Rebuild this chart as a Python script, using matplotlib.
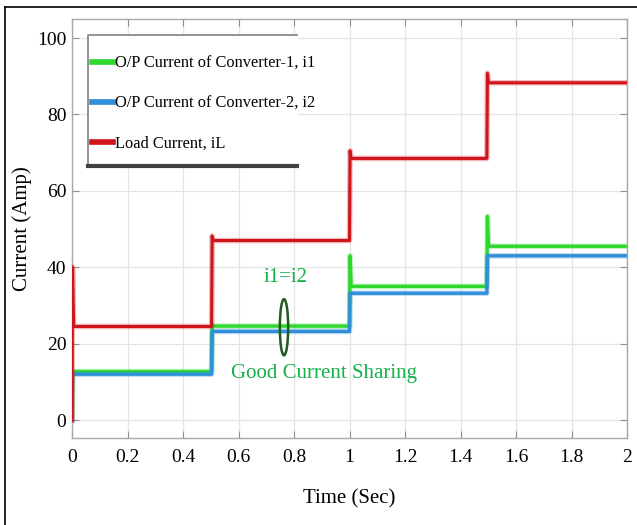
import matplotlib
matplotlib.use("Agg")
import matplotlib.pyplot as plt
import matplotlib.patheffects as pe
from matplotlib.patches import Ellipse
from matplotlib.lines import Line2D

# Load-step instants (s) and steady levels / transient peaks (A)
step_times = [0.0, 0.503, 1.0, 1.495, 2.0]
iL_levels = [24.5, 47.0, 68.5, 88.3]
iL_peaks = [40.0, 48.2, 70.5, 90.8]
i1_levels = [12.7, 24.6, 35.0, 45.5]
i1_peaks = [12.7, 25.0, 43.0, 53.3]
i2_levels = [12.0, 23.2, 33.2, 43.0]
i2_peaks = [12.0, 23.2, 33.2, 43.0]

x_ticks = [0, 0.2, 0.4, 0.6, 0.8, 1.0, 1.2, 1.4, 1.6, 1.8, 2.0]
x_tick_labels = ["0", "0.2", "0.4", "0.6", "0.8", "1", "1.2", "1.4", "1.6", "1.8", "2"]
y_ticks = [0, 20, 40, 60, 80, 100]


def step_trace(times, levels, peaks, settle=0.006):
    t, y = [times[0]], [0.0]
    prev = 0.0
    for k, lev in enumerate(levels):
        t0 = times[k]
        t += [t0, t0 + 0.002, t0 + settle, times[k + 1]]
        y += [prev, peaks[k], lev, lev]
        prev = lev
    return t, y


plt.rcParams["font.family"] = ["Liberation Serif", "DejaVu Serif"]

fig = plt.figure(figsize=(6.37, 5.25), dpi=100)
ax = fig.add_axes([72 / 637, 1 - 438 / 525, 555 / 637, 419 / 525])

red = "#d0141c"
green = "#2ed82e"
blue = "#2f8fd8"


def halo(c):
    return [pe.Stroke(linewidth=4.0, foreground=c, alpha=0.3), pe.Normal()]


t, y = step_trace(step_times, i1_levels, i1_peaks)
l1, = ax.plot(t, y, color=green, lw=2.4, label="O/P Current of Converter-1, i1",
              path_effects=halo(green), zorder=3)
t, y = step_trace(step_times, i2_levels, i2_peaks)
l2, = ax.plot(t, y, color=blue, lw=2.4, label="O/P Current of Converter-2, i2",
              path_effects=halo(blue), zorder=4)
t, y = step_trace(step_times, iL_levels, iL_peaks)
l3, = ax.plot(t, y, color=red, lw=2.2, label="Load Current, iL",
              path_effects=halo(red), zorder=5)

ax.set_xlim(0, 2)
ax.set_ylim(-4.7, 105)
ax.set_xticks(x_ticks)
ax.set_xticklabels(x_tick_labels)
ax.set_yticks(y_ticks)
ax.grid(True, color="#e4e4e4", lw=0.9)
ax.set_axisbelow(True)
for s in ax.spines.values():
    s.set_color("#a8a8a8")
    s.set_linewidth(1.0)
ax.tick_params(direction="in", length=5, color="#909090", top=True, right=True,
               labelsize=14)
ax.tick_params(axis="y", pad=4)
ax.tick_params(axis="x", pad=8)
ax.set_xlabel("Time (Sec)", fontsize=15, labelpad=17)
ax.set_ylabel("Current (Amp)", fontsize=15, labelpad=4)

# Legend panel: grey top/left edges, heavy dark base line
lx0, lx1, ly0, ly1 = 0.029, 0.405, 0.649, 0.962
ax.fill([lx0, lx1, lx1, lx0], [ly0, ly0, ly1, ly1], transform=ax.transAxes,
        color="white", zorder=6)
ax.add_line(Line2D([lx0, lx0, lx1], [ly0, ly1, ly1], transform=ax.transAxes,
                   color="#8a8a8a", lw=1.3, zorder=7))
ax.add_line(Line2D([lx0, lx1], [ly0, ly0], transform=ax.transAxes,
                   color="#404040", lw=3, zorder=7))
leg = ax.legend(handles=[l1, l2, l3], loc="upper left", bbox_to_anchor=(0.024, 0.928),
                frameon=False, fontsize=11.8, handlelength=1.3, handletextpad=0.1,
                labelspacing=1.45, borderaxespad=0)
leg.set_zorder(8)
for h in leg.legend_handles:
    h.set_linewidth(4)

# Current-sharing annotation
ax.add_patch(Ellipse((0.764, 24.3), 0.03, 14.7, fill=False, edgecolor="#1f5a1f",
                     lw=1.8, zorder=9))
ax.text(0.77, 37.2, "i1=i2", color="#16b04a", fontsize=15, ha="center", va="center")
ax.text(0.907, 12.3, "Good Current Sharing", color="#16b04a", fontsize=15,
        ha="center", va="center")

# Figure frame
fig.add_artist(Line2D([5 / 637, 5 / 637], [0, 1 - 7 / 525], color="black", lw=1.2))
fig.add_artist(Line2D([5 / 637, 1], [1 - 7 / 525, 1 - 7 / 525], color="black", lw=1.2))

fig.savefig("out.png", dpi=100)
